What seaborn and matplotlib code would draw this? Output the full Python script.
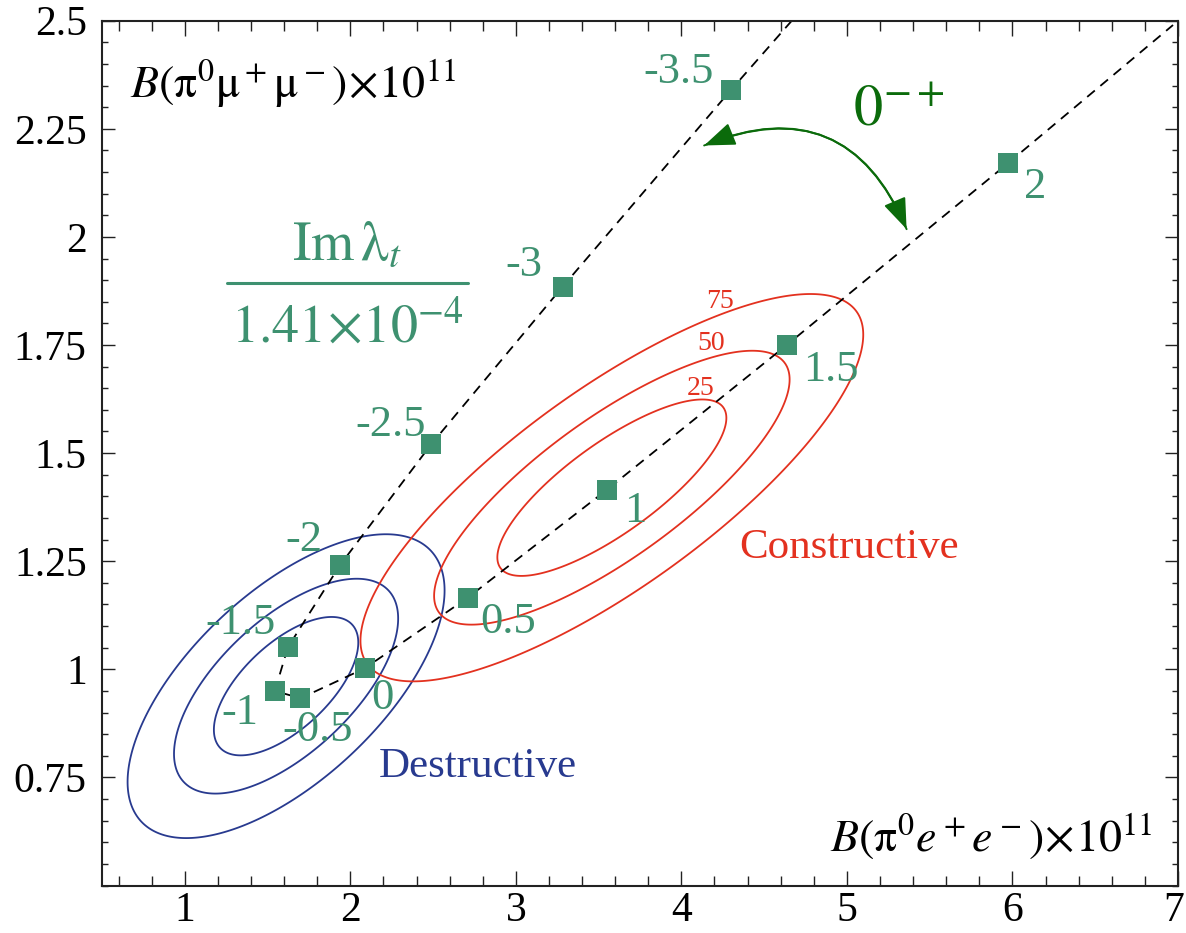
import numpy as np
import pandas as pd
import matplotlib
matplotlib.use("Agg")
import matplotlib.pyplot as plt
from matplotlib.ticker import MultipleLocator, FixedLocator
from matplotlib.patches import FancyArrowPatch
from matplotlib.transforms import ScaledTranslation
import seaborn as sns

# ---------------- data ----------------
im_lambda = [-3.5, -3, -2.5, -2, -1.5, -1, -0.5, 0, 0.5, 1, 1.5, 2]
b_ee = [4.30, 3.283, 2.49, 1.938, 1.623, 1.544, 1.699, 2.086, 2.711, 3.549, 4.640, 5.975]
b_mumu = [2.340, 1.885, 1.521, 1.241, 1.051, 0.950, 0.933, 1.002, 1.166, 1.415, 1.751, 2.171]
label_text = ["-3.5", "-3", "-2.5", "-2", "-1.5", "-1", "-0.5", "0", "0.5", "1", "1.5", "2"]

# dashed trajectory continues beyond the plotted points to the frame
curve_ee = [4.667] + b_ee + [6.97]
curve_mumu = [2.50] + b_mumu + [2.49]

# Gaussian regions: centre, sigmas, correlation
destr_center = [1.612, 0.961]
destr_sigma = [0.575, 0.211]
destr_rho = 0.63
constr_center = [3.58, 1.42]
constr_sigma = [0.912, 0.269]
constr_rho = 0.79
levels_pct = [25, 50, 75]

x_ticks = [1, 2, 3, 4, 5, 6, 7]
x_ticklabels = ["1", "2", "3", "4", "5", "6", "7"]
y_ticks = [0.75, 1.0, 1.25, 1.5, 1.75, 2.0, 2.25, 2.5]
y_ticklabels = ["0.75", "1", "1.25", "1.5", "1.75", "2", "2.25", "2.5"]

# ---------------- style ----------------
sns.set_theme(style="ticks")
plt.rcParams["font.family"] = ["Liberation Serif", "DejaVu Serif"]
plt.rcParams["mathtext.fontset"] = "stix"

GREEN = "#3e9170"
RED = "#e3311f"
BLUE = "#283a8f"
DKGREEN = "#0b6b0b"

fig = plt.figure(figsize=(11.86, 9.33), dpi=100)
ax = fig.add_axes([102 / 1186, 1 - 885.5 / 933, (1178 - 102) / 1186, (885.5 - 20.7) / 933])
ax.set_xlim(0.5, 7)
ax.set_ylim(0.5, 2.5)

# ---------------- contours ----------------
gx = np.linspace(0.5, 7, 700)
gy = np.linspace(0.5, 2.5, 500)
GX, GY = np.meshgrid(gx, gy)

def prob_field(center, sigma, rho):
    dx = (GX - center[0]) / sigma[0]
    dy = (GY - center[1]) / sigma[1]
    d2 = (dx ** 2 - 2 * rho * dx * dy + dy ** 2) / (1 - rho ** 2)
    return 100 * (1 - np.exp(-d2 / 2))

ax.contour(GX, GY, prob_field(destr_center, destr_sigma, destr_rho),
           levels=levels_pct, colors=BLUE, linewidths=1.3)
ax.contour(GX, GY, prob_field(constr_center, constr_sigma, constr_rho),
           levels=levels_pct, colors=RED, linewidths=1.3)

# contour labels for constructive region
clabel_pos = [(4.118, 1.634), (4.181, 1.738), (4.231, 1.836)]
for lev, (px, py) in zip(levels_pct, clabel_pos):
    ax.text(px, py, f"{lev}", color=RED, fontsize=20, ha="center", va="baseline")

# ---------------- dashed trajectory ----------------
curve_df = pd.DataFrame({"x": curve_ee, "y": curve_mumu})
sns.lineplot(data=curve_df, x="x", y="y", sort=False, estimator=None, ax=ax,
             color="black", linewidth=1.3, legend=False)
ax.lines[-1].set_dashes([5.5, 4])

# ---------------- markers ----------------
pts = pd.DataFrame({"ee": b_ee, "mumu": b_mumu, "lam": im_lambda})
sns.scatterplot(data=pts, x="ee", y="mumu", marker="s", s=205, color=GREEN,
                linewidth=0, ax=ax, zorder=5, legend=False)

offsets = [(-52, 18), (-39, 22), (-41, 19), (-36, 25), (-47, 24), (-35, -22),
           (17, -32), (18, -30), (40, -24), (28, -21), (44, -25), (27, -24)]
for t, xx, yy, (ox, oy) in zip(label_text, b_ee, b_mumu, offsets):
    ax.annotate(t, (xx, yy), xytext=(ox, oy), textcoords="offset pixels",
                ha="center", va="center", color=GREEN, fontsize=32)

# ---------------- texts ----------------
ax.text(0.669, 2.3235, r"$B(\mathrm{\pi}^0\mathrm{\mu}^+\mathrm{\mu}^-)\!\times\!10^{11}$",
        fontsize=33, ha="left", va="baseline", color="black")
ax.text(6.848, 0.580, r"$B(\mathrm{\pi}^0 e^+e^-)\!\times\!10^{11}$", fontsize=33,
        ha="right", va="baseline", color="black")

ax.text(1.979, 1.947, r"$\mathrm{Im}\,\mathrm{\lambda}_t$", fontsize=40, ha="center",
        va="baseline", color=GREEN)
ax.plot([1.254, 2.708], [1.893, 1.893], color=GREEN, linewidth=2.2)
ax.text(1.98, 1.755, r"$1.41\!\times\!10^{-4}$", fontsize=39, ha="center",
        va="baseline", color=GREEN)

ax.text(4.351, 1.258, "Constructive", fontsize=31, color=RED, ha="left", va="baseline")
ax.text(2.174, 0.751, "Destructive", fontsize=31, color=BLUE, ha="left", va="baseline")

ax.text(5.035, 2.257, r"$0^{-+}$", fontsize=42, color=DKGREEN, ha="left", va="baseline")
arrow = FancyArrowPatch((5.367, 2.012), (4.122, 2.209),
                        connectionstyle="arc3,rad=0.5",
                        arrowstyle="-|>,head_length=12,head_width=4.5",
                        color=DKGREEN, linewidth=1.4, mutation_scale=1.6)
ax.add_patch(arrow)
arrow2 = FancyArrowPatch((4.122, 2.209), (5.367, 2.012),
                         connectionstyle="arc3,rad=-0.5",
                         arrowstyle="-|>,head_length=12,head_width=4.5",
                         color=DKGREEN, linewidth=1.4, mutation_scale=1.6)
ax.add_patch(arrow2)

# ---------------- axes ----------------
ax.set_xlabel("")
ax.set_ylabel("")
ax.xaxis.set_major_locator(FixedLocator(x_ticks))
ax.set_xticklabels(x_ticklabels)
ax.yaxis.set_major_locator(FixedLocator(y_ticks))
ax.set_yticklabels(y_ticklabels)
ax.xaxis.set_minor_locator(MultipleLocator(0.2))
ax.yaxis.set_minor_locator(MultipleLocator(0.05))
ax.tick_params(which="both", direction="in", top=True, right=True,
               colors="#222222", labelcolor="black", width=1.0)
ax.tick_params(axis="x", which="major", length=11, labelsize=30, pad=4)
ax.tick_params(axis="x", which="minor", length=7)
ax.tick_params(axis="y", which="major", length=9.5, labelsize=30, pad=11)
ax.tick_params(axis="y", which="minor", length=4.5)
for sp in ax.spines.values():
    sp.set_visible(True)
    sp.set_linewidth(1.5)
    sp.set_color("#222222")

# keep the last x tick label inside the canvas
last_lbl = ax.get_xticklabels()[-1]
last_lbl.set_horizontalalignment("right")
last_lbl.set_transform(last_lbl.get_transform() + ScaledTranslation(6 / 100, 0, fig.dpi_scale_trans))

fig.savefig("out.png", dpi=100)
